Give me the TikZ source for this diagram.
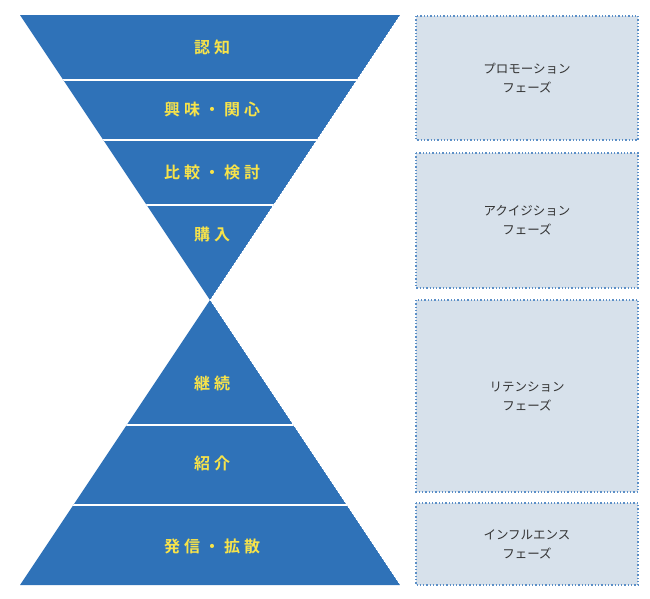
\documentclass[tikz,border=0pt]{standalone}
\usepackage{fontspec}
\newfontfamily\jpb[LetterSpace=25]{Noto Sans CJK JP Bold}
\newfontfamily\jp{Noto Sans CJK JP}
\definecolor{fb}{HTML}{2F72B8}
\definecolor{ty}{HTML}{F7E34A}
\definecolor{bx}{HTML}{D7E1EB}
\definecolor{bd}{HTML}{5B8FC7}
\tikzset{
 lab/.style={text=ty,font=\jpb\fontsize{16}{18}\selectfont,anchor=center},
 phase/.style={draw=bd,fill=bx,line width=1.3pt,dotted,rectangle},
 ptxt/.style={text=black!80,font=\jp\fontsize{12.5}{19}\selectfont,align=center},
 sep/.style={white,line width=1.2pt}
}
\begin{document}
\begin{tikzpicture}[x=1pt,y=-1pt]
\useasboundingbox (0,0) rectangle (650,598);
\coordinate (tl) at (20,15); \coordinate (tr) at (400,15); \coordinate (ap) at (210,300);
\coordinate (bl) at (20,585); \coordinate (br) at (400,585);
\begin{scope}
\clip (tl)--(tr)--(ap)--cycle;
\fill[fb] (tl)--(tr)--(ap)--cycle;
\draw[sep] (0,80)--(420,80) (0,140)--(420,140) (0,205)--(420,205);
\end{scope}
\begin{scope}
\clip (ap)--(br)--(bl)--cycle;
\fill[fb] (ap)--(br)--(bl)--cycle;
\draw[sep] (0,425)--(420,425) (0,505)--(420,505);
\end{scope}
\node[lab] (a) at (212,47) {認知};
\node[lab] (b) at (212,109) {興味・関心};
\node[lab] (c) at (212,172) {比較・検討};
\node[lab] (d) at (212,234) {購入};
\node[lab] (e) at (212,383) {継続};
\node[lab] (f) at (212,463) {紹介};
\node[lab] (g) at (212,546) {発信・拡散};
\draw[phase] (416,16) rectangle (638,140);
\draw[phase] (416,153) rectangle (638,288);
\draw[phase] (416,300) rectangle (638,492);
\draw[phase] (416,503) rectangle (638,585);
\node[ptxt] (p1) at (527,78) {プロモーション\\フェーズ};
\node[ptxt] (p2) at (527,220) {アクイジション\\フェーズ};
\node[ptxt] (p3) at (527,396) {リテンション\\フェーズ};
\node[ptxt] (p4) at (527,544) {インフルエンス\\フェーズ};
\end{tikzpicture}
\end{document}
